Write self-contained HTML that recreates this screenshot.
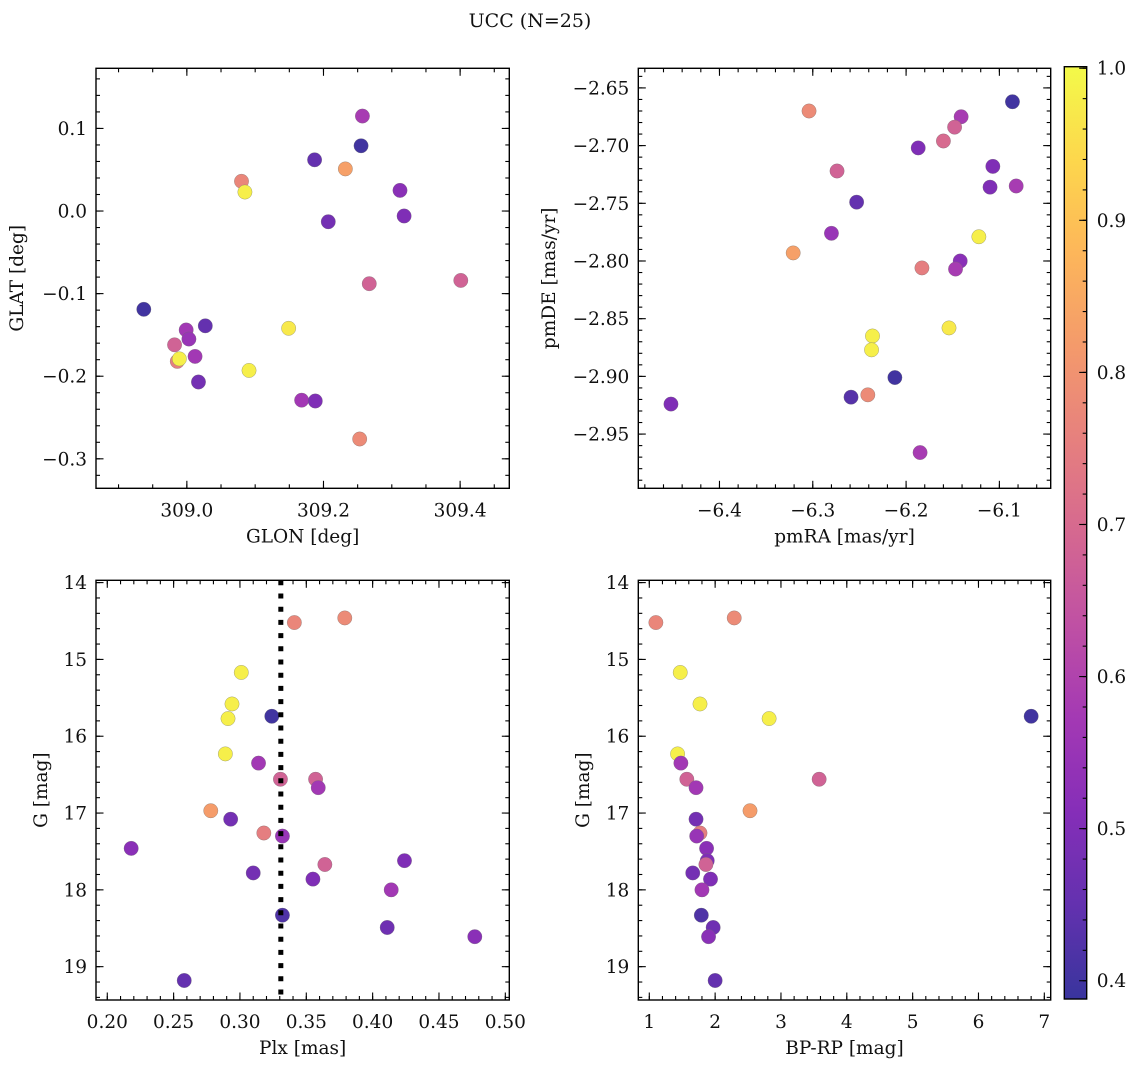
<!DOCTYPE html>
<html><head><meta charset="utf-8">
<style>
html,body{margin:0;padding:0;background:#fff;}
text{font-family:"DejaVu Serif","Liberation Serif","Noto Serif CJK SC",serif !important;fill:#111;}
</style></head>
<body>
<svg id="fig" width="1136" height="1067" xmlns="http://www.w3.org/2000/svg" font-family="'DejaVu Serif','Liberation Serif',serif" style="font-family:'DejaVu Serif','Liberation Serif',serif">
<rect width="1136" height="1067" fill="#fff"/>
<text x="530" y="27" font-size="19" text-anchor="middle" style="font-family:'DejaVu Serif','Liberation Serif',serif">UCC (N=25)</text>
</svg>
<script>
// Panel 1: GLON vs GLAT
const glon = [309.257,309.255,309.187,309.232,309.080,309.085,309.312,309.318,309.207,309.267,309.401,308.937,309.027,309.149,308.999,309.003,308.982,309.012,308.986,308.989,309.091,309.017,309.168,309.188,309.253];
const glat = [0.115,0.079,0.062,0.051,0.036,0.023,0.025,-0.006,-0.013,-0.088,-0.084,-0.119,-0.139,-0.142,-0.144,-0.155,-0.162,-0.176,-0.182,-0.179,-0.193,-0.207,-0.229,-0.230,-0.276];
const probA = [0.58,0.40,0.45,0.83,0.77,0.98,0.52,0.50,0.48,0.68,0.68,0.40,0.45,0.97,0.57,0.55,0.68,0.57,0.75,0.98,0.98,0.48,0.57,0.50,0.78];
// Panel 2: pmRA vs pmDE
const pmra = [-6.086,-6.304,-6.141,-6.148,-6.160,-6.187,-6.107,-6.274,-6.110,-6.082,-6.253,-6.280,-6.122,-6.321,-6.142,-6.183,-6.147,-6.154,-6.236,-6.237,-6.212,-6.259,-6.241,-6.452,-6.185];
const pmde = [-2.662,-2.670,-2.675,-2.684,-2.696,-2.702,-2.718,-2.722,-2.736,-2.735,-2.749,-2.776,-2.779,-2.793,-2.800,-2.806,-2.807,-2.858,-2.865,-2.877,-2.901,-2.918,-2.916,-2.924,-2.966];
const probB = [0.40,0.78,0.58,0.68,0.70,0.50,0.50,0.68,0.50,0.58,0.45,0.55,0.98,0.83,0.52,0.75,0.58,0.97,0.98,0.98,0.40,0.43,0.78,0.50,0.58];
// Panel 3: Plx vs G
const plx = [0.341,0.379,0.301,0.294,0.324,0.291,0.289,0.314,0.3305,0.357,0.359,0.278,0.293,0.318,0.332,0.218,0.424,0.364,0.310,0.355,0.414,0.332,0.411,0.477,0.258];
const gmagC = [14.52,14.46,15.17,15.58,15.74,15.77,16.23,16.35,16.56,16.56,16.67,16.97,17.08,17.26,17.30,17.46,17.62,17.67,17.78,17.86,18.00,18.33,18.49,18.61,19.18];
const probC = [0.77,0.78,0.98,0.98,0.40,0.98,0.98,0.57,0.68,0.68,0.57,0.82,0.48,0.75,0.55,0.52,0.50,0.68,0.48,0.50,0.57,0.42,0.47,0.52,0.45];
const plxRef = [0.3308];
// Panel 4: BP-RP vs G
const bprp = [1.10,2.29,1.47,1.77,2.82,6.80,1.43,1.48,1.57,3.58,1.71,2.53,1.71,1.77,1.72,1.87,1.88,1.86,1.66,1.93,1.80,1.79,1.97,1.90,2.00];
const gmagD = [14.52,14.46,15.17,15.58,15.77,15.74,16.23,16.35,16.56,16.56,16.67,16.97,17.08,17.26,17.30,17.46,17.62,17.67,17.78,17.86,18.00,18.33,18.49,18.61,19.18];
const probD = [0.77,0.78,0.98,0.98,0.98,0.40,0.98,0.57,0.68,0.68,0.57,0.82,0.48,0.75,0.55,0.52,0.50,0.68,0.48,0.50,0.57,0.42,0.47,0.52,0.45];
// Colorbar ticks
const cbTicks = [0.4,0.5,0.6,0.7,0.8,0.9,1.0];
const cbLabels = ["0.4","0.5","0.6","0.7","0.8","0.9","1.0"];

const NS="http://www.w3.org/2000/svg";
const FONT="'DejaVu Serif','Liberation Serif',serif";
const FS=18.5;
const svg=document.getElementById('fig');
const VMIN=0.388, VMAX=1.0, ALPHA=0.82;
const stops=["#0d0887","#41049d","#6a00a8","#8f0da4","#b12a90","#cc4778","#e16462","#f2844b","#fca636","#fcce25","#f0f921"];
function hex(h){return [1,3,5].map(i=>parseInt(h.substr(i,2),16));}
function plasma(t){t=Math.max(0,Math.min(1,t));const f=t*10,i=Math.min(9,Math.floor(f)),u=f-i;const a=hex(stops[i]),b=hex(stops[i+1]);
 return a.map((v,k)=>v+(b[k]-v)*u);}
function colorFor(p){const c=plasma((p-VMIN)/(VMAX-VMIN));return 'rgb('+c.map(v=>Math.round(v*ALPHA+255*(1-ALPHA))).join(',')+')';}
function mk(tag,attrs,parent){const e=document.createElementNS(NS,tag);for(const k in attrs)e.setAttribute(k,attrs[k]);
 if(tag==='text'){e.setAttribute('font-family',FONT);e.setAttribute('style','font-family:'+FONT);}
 (parent||svg).appendChild(e);return e;}
function fmt(v,d){const s=Math.abs(v).toFixed(d);return (v<-1e-9?'\u2212':'')+s;}

function panel(cfg){
 const g=mk('g',{});
 
 
 const {L,R,T,B,xmin,xmax,ymin,ymax,invY}=cfg;
 const sx=v=>L+(v-xmin)/(xmax-xmin)*(R-L);
 const sy=v=>invY? T+(v-ymin)/(ymax-ymin)*(B-T) : B-(v-ymin)/(ymax-ymin)*(B-T);
 for(let i=0;i<cfg.xs.length;i++){
  const c=mk('circle',{cx:sx(cfg.xs[i]).toFixed(2),cy:sy(cfg.ys[i]).toFixed(2),r:7.2,fill:colorFor(cfg.cs[i]),stroke:'rgba(110,110,110,0.6)','stroke-width':0.5},g);
  
  
 }
 if(cfg.vline){cfg.vline.forEach(v=>{
  const l=mk('line',{x1:sx(v),x2:sx(v),y1:T,y2:B,stroke:'#000','stroke-width':5,'stroke-dasharray':'5 8.2'},g);
  
  
 });}
 const tk=mk('g',{stroke:'#000','stroke-width':1.1},g);
 const eps=1e-9;
 function range(step,lo,hi){const a=[];let s=Math.ceil((lo-eps)/step);for(let v=s*step;v<=hi+eps;v=(++s)*step)a.push(+v.toFixed(6));return a;}
 range(cfg.xminor,xmin,xmax).forEach(v=>{const x=sx(v);mk('line',{x1:x,x2:x,y1:B,y2:B-4},tk);mk('line',{x1:x,x2:x,y1:T,y2:T+4},tk);});
 range(cfg.yminor,Math.min(ymin,ymax),Math.max(ymin,ymax)).forEach(v=>{const y=sy(v);mk('line',{x1:L,x2:L+4,y1:y,y2:y},tk);mk('line',{x1:R,x2:R-4,y1:y,y2:y},tk);});
 range(cfg.xmajor,xmin,xmax).forEach(v=>{const x=sx(v);mk('line',{x1:x,x2:x,y1:B,y2:B-7.5},tk);mk('line',{x1:x,x2:x,y1:T,y2:T+7.5},tk);
   const t=mk('text',{x:x,y:B+28,'font-size':FS,'text-anchor':'middle'},g);t.textContent=fmt(v,cfg.xd);
   });
 range(cfg.ymajor,Math.min(ymin,ymax),Math.max(ymin,ymax)).forEach(v=>{const y=sy(v);mk('line',{x1:L,x2:L+7.5,y1:y,y2:y},tk);mk('line',{x1:R,x2:R-7.5,y1:y,y2:y},tk);
   const t=mk('text',{x:L-9,y:y+6.5,'font-size':FS,'text-anchor':'end'},g);t.textContent=fmt(v,cfg.yd);
   });
 const fr=mk('rect',{x:L,y:T,width:R-L,height:B-T,fill:'none',stroke:'#000','stroke-width':1.4},g);
 
 const xl=mk('text',{x:(L+R)/2,y:B+54,'font-size':FS,'text-anchor':'middle'},g);xl.textContent=cfg.xlabel;
 
 const yl=mk('text',{x:0,y:0,'font-size':FS,'text-anchor':'middle',transform:`translate(${cfg.ylx},${(T+B)/2}) rotate(-90)`},g);yl.textContent=cfg.ylabel;
 
}

panel({name:'glon-glat-panel',L:96,R:509.3,T:68.3,B:488.3,xmin:308.867,xmax:309.472,ymin:-0.3357,ymax:0.1728,xmajor:0.2,xminor:0.05,ymajor:0.1,yminor:0.02,xd:1,yd:1,xs:glon,ys:glat,cs:probA,xlabel:'GLON [deg]',ylabel:'GLAT [deg]',ylx:23});
panel({name:'pmra-pmde-panel',L:638.3,R:1050.7,T:68.3,B:488.3,xmin:-6.487,xmax:-6.045,ymin:-2.997,ymax:-2.633,xmajor:0.1,xminor:0.02,ymajor:0.05,yminor:0.01,xd:1,yd:2,xs:pmra,ys:pmde,cs:probB,xlabel:'pmRA [mas/yr]',ylabel:'pmDE [mas/yr]',ylx:555});
panel({name:'plx-g-panel',L:96,R:509.3,T:580.3,B:1000,xmin:0.1915,xmax:0.503,ymin:13.97,ymax:19.434,invY:true,xmajor:0.05,xminor:0.01,ymajor:1,yminor:0.2,xd:2,yd:0,xs:plx,ys:gmagC,cs:probC,vline:plxRef,xlabel:'Plx [mas]',ylabel:'G [mag]',ylx:47});
panel({name:'bprp-g-panel',L:638.3,R:1050.7,T:580.3,B:1000,xmin:0.833,xmax:7.097,ymin:13.97,ymax:19.434,invY:true,xmajor:1,xminor:0.2,ymajor:1,yminor:0.2,xd:0,yd:0,xs:bprp,ys:gmagD,cs:probD,xlabel:'BP-RP [mag]',ylabel:'G [mag]',ylx:589});

(function(){
 const L=1064.3,R=1086.7,T=66.7,B=999;
 const cb=mk('g',{});
 
 
 const defs=mk('defs',{},cb);
 const lg=mk('linearGradient',{id:'cbg',x1:0,y1:1,x2:0,y2:0},defs);
 for(let k=0;k<=20;k++){const p=VMIN+(VMAX-VMIN)*k/20;mk('stop',{offset:(k/20),'stop-color':colorFor(p)},lg);}
 mk('rect',{x:L,y:T,width:R-L,height:B-T,fill:'url(#cbg)'},cb);
 const sy=v=>B-(v-VMIN)/(1.001-VMIN)*(B-T);
 const tk=mk('g',{stroke:'#000','stroke-width':1.1},cb);
 for(let v=0.40;v<=1.0001;v+=0.02){const y=sy(v);mk('line',{x1:R,x2:R-4,y1:y,y2:y},tk);}
 cbTicks.forEach((v,i)=>{const y=sy(v);mk('line',{x1:R,x2:R-7.5,y1:y,y2:y},tk);
  const t=mk('text',{x:R+10,y:y+6.5,'font-size':FS},cb);t.textContent=cbLabels[i];
  });
 mk('rect',{x:L,y:T,width:R-L,height:B-T,fill:'none',stroke:'#000','stroke-width':1.4},cb);
})();
</script>
</body></html>
